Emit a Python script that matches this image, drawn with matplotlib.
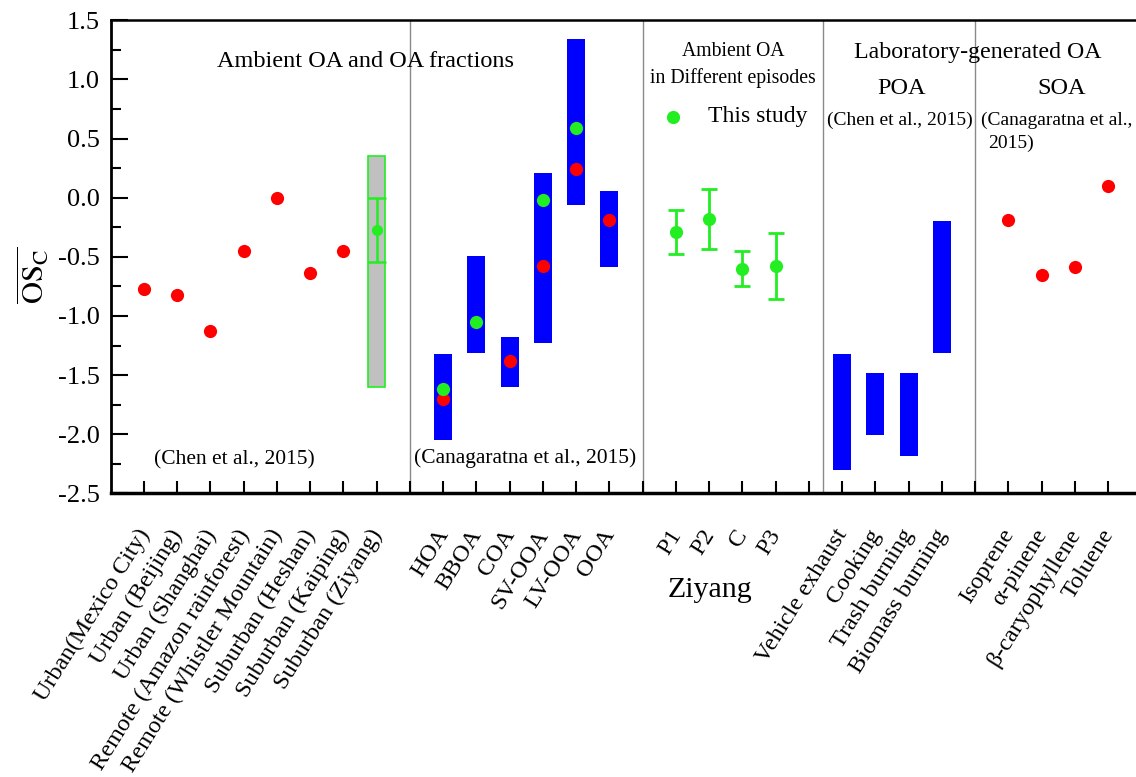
import matplotlib
matplotlib.use("Agg")
import matplotlib.pyplot as plt
from matplotlib.ticker import FormatStrFormatter, MultipleLocator
from matplotlib.transforms import ScaledTranslation, blended_transform_factory
import numpy as np

plt.rcParams['font.family'] = ['Liberation Serif', 'DejaVu Serif']
plt.rcParams['mathtext.fontset'] = 'stix'
plt.rcParams['axes.unicode_minus'] = False

# ---------------- data ----------------
ambient_labels = ['Urban(Mexico City)', 'Urban (Beijing)', 'Urban (Shanghai)',
                  'Remote (Amazon rainforest)', 'Remote (Whistler Mountain)',
                  'Suburban (Heshan)', 'Suburban (Kaiping)', 'Suburban (Ziyang)']
ambient_pos = [1, 2, 3, 4, 5, 6, 7, 8]
ambient_values = [-0.77, -0.82, -1.13, -0.45, 0.0, -0.64, -0.45]   # Chen et al. (first 7 sites)
ziyang_box_low = -1.60
ziyang_box_high = 0.35
ziyang_mean = -0.27
ziyang_std = 0.27

factor_labels = ['HOA', 'BBOA', 'COA', 'SV-OOA', 'LV-OOA', 'OOA']
factor_pos = [10, 11, 12, 13, 14, 15]
factor_low = [-2.05, -1.31, -1.60, -1.23, -0.06, -0.59]
factor_high = [-1.32, -0.49, -1.18, 0.21, 1.34, 0.06]
factor_red = [-1.70, np.nan, -1.38, -0.58, 0.24, -0.19]
factor_green = [-1.62, -1.05, np.nan, -0.02, 0.59, np.nan]

episode_labels = ['P1', 'P2', 'C', 'P3']
episode_pos = [17, 18, 19, 20]
episode_mean = [-0.29, -0.18, -0.60, -0.58]
episode_std = [0.19, 0.25, 0.15, 0.28]

poa_labels = ['Vehicle exhaust', 'Cooking', 'Trash burning', 'Biomass burning']
poa_pos = [22, 23, 24, 25]
poa_low = [-2.30, -2.01, -2.18, -1.31]
poa_high = [-1.32, -1.48, -1.48, -0.20]

soa_labels = ['Isoprene', 'α-pinene', 'β-caryophyllene', 'Toluene']
soa_pos = [27, 28, 29, 30]
soa_values = [-0.19, -0.65, -0.59, 0.10]

separators = [9, 16, 21.43, 26]

BLUE = '#0000FF'
RED = '#FF0000'
GREEN = '#22EE22'

# ---------------- figure ----------------
fig = plt.figure(figsize=(11.36, 7.77), dpi=100)
ax = fig.add_axes([0.0975, 0.3649, 0.9071, 0.6091])
ax.set_xlim(0, 31)
ax.set_ylim(-2.5, 1.5)

for s in separators:
    ax.axvline(s, color='#8a8a8a', lw=1.0, zorder=1)

# Ziyang box
ax.bar([8], [ziyang_box_high - ziyang_box_low], bottom=[ziyang_box_low], width=0.52,
       color='#c0c0c0', edgecolor=GREEN, linewidth=1.2, zorder=2)
ax.errorbar([8], [ziyang_mean], yerr=[ziyang_std], fmt='o', color=GREEN, ms=7,
            elinewidth=1.8, capsize=6.2, capthick=1.8, zorder=5)

# red ambient points
ax.plot(ambient_pos[:7], ambient_values, 'o', color=RED, ms=9.5, mec='none', zorder=4)

# factor bars
ax.bar(factor_pos, np.array(factor_high) - np.array(factor_low), bottom=factor_low,
       width=0.54, color=BLUE, zorder=2)
ax.plot(factor_pos, factor_red, 'o', color=RED, ms=9.5, mec='none', zorder=4)
ax.plot(factor_pos, factor_green, 'o', color=GREEN, ms=9.5, mec='none', zorder=5)

# episodes
ax.errorbar(episode_pos, episode_mean, yerr=episode_std, fmt='o', color=GREEN, ms=9.5,
            elinewidth=2.0, capsize=5.5, capthick=2.0, mec='none', zorder=5)

# POA bars
ax.bar(poa_pos, np.array(poa_high) - np.array(poa_low), bottom=poa_low,
       width=0.54, color=BLUE, zorder=2)

# SOA points
ax.plot(soa_pos, soa_values, 'o', color=RED, ms=9.5, mec='none', zorder=4)

# legend-like marker
ax.plot([16.91], [0.685], 'o', color=GREEN, ms=9.5, mec='none', zorder=5)
ax.text(17.97, 0.685, 'This study', fontsize=17, va='center', ha='left')

# annotations
ax.text(7.65, 1.147, 'Ambient OA and OA fractions', fontsize=17.5, ha='center', va='center')
ax.text(3.71, -2.217, '(Chen et al., 2015)', fontsize=15.5, ha='center', va='center')
ax.text(12.46, -2.20, '(Canagaratna et al., 2015)', fontsize=15.5, ha='center', va='center')
ax.text(18.72, 1.235, 'Ambient OA', fontsize=14.2, ha='center', va='center')
ax.text(18.72, 1.015, 'in Different episodes', fontsize=14.2, ha='center', va='center')
ax.text(26.09, 1.223, 'Laboratory-generated OA', fontsize=17.2, ha='center', va='center')
ax.text(23.8, 0.919, 'POA', fontsize=17.5, ha='center', va='center')
ax.text(28.62, 0.919, 'SOA', fontsize=17.5, ha='center', va='center')
ax.text(23.73, 0.657, '(Chen et al., 2015)', fontsize=14, ha='center', va='center')
ax.text(26.18, 0.657, '(Canagaratna et al.,', fontsize=14, ha='left', va='center')
ax.text(26.38, 0.462, '2015)', fontsize=14, ha='left', va='center')

trans = blended_transform_factory(ax.transData, ax.transAxes)
ax.text(18.03, -0.204, 'Ziyang', fontsize=21.5, ha='center', va='center', transform=trans)

# ticks
all_pos = ambient_pos + factor_pos + episode_pos + poa_pos + soa_pos
all_labels = ambient_labels + factor_labels + episode_labels + poa_labels + soa_labels
ax.set_xticks(list(range(1, 31)))
lab_map = dict(zip(all_pos, all_labels))
ax.set_xticklabels([lab_map.get(i, '') for i in range(1, 31)], rotation=58,
                   ha='right', va='center', rotation_mode='anchor', fontsize=17.5)
ax.tick_params(axis='x', direction='in', length=9, width=1.5, pad=27, top=False)
offset = ScaledTranslation(1 / 100, 0, fig.dpi_scale_trans)
for lbl in ax.get_xticklabels():
    lbl.set_transform(lbl.get_transform() + offset)

ax.yaxis.set_major_locator(MultipleLocator(0.5))
ax.yaxis.set_minor_locator(MultipleLocator(0.25))
ax.yaxis.set_major_formatter(FormatStrFormatter('%.1f'))
ax.tick_params(axis='y', which='major', direction='in', length=12, width=1.5,
               labelsize=19, pad=8, right=False)
ax.tick_params(axis='y', which='minor', direction='in', length=7, width=1.5, right=False)

ax.spines['right'].set_visible(False)
ax.spines['left'].set_linewidth(2.0)
ax.spines['bottom'].set_linewidth(2.5)
ax.spines['top'].set_linewidth(1.8)

ax.set_ylabel(r'$\overline{\mathrm{OS}_{\mathrm{C}}}$', fontsize=22, va='center')
ax.yaxis.set_label_coords(-0.075, 0.46)

fig.savefig('out.png', dpi=100)
